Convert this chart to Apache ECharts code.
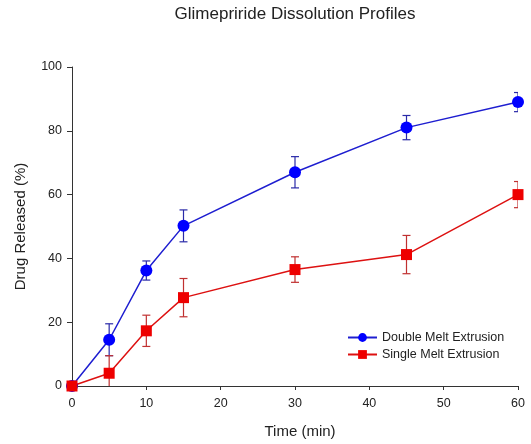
<!DOCTYPE html>
<html>
<head>
<meta charset="utf-8">
<script src="https://cdn.jsdelivr.net/npm/echarts@6/dist/echarts.min.js"></script>
<style>
  html, body { margin: 0; padding: 0; background: #fff; }
  #chart { width: 531px; height: 444px; }
</style>
</head>
<body>
<div id="chart"></div>
<script>
// time points (min)
var times = [0, 5, 10, 15, 30, 45, 60];
// Double Melt Extrusion: mean and error
var doubleMean = [0, 14.5, 36.2, 50.2, 67, 81, 89];
var doubleErr = [0, 5, 3, 5, 4.9, 3.8, 3];
// Single Melt Extrusion: mean and error
var singleMean = [0, 4, 17.3, 27.7, 36.5, 41.2, 60];
var singleErr = [0, 5.5, 4.9, 6, 4, 6, 4.1];
var xTicks = [0, 10, 20, 30, 40, 50, 60];
var yTicks = [0, 20, 40, 60, 80, 100];

function pairs(m) {
    return times.map(function (t, i) { return [t, m[i]]; });
}
function errData(m, e) {
    return times.map(function (t, i) { return [t, m[i] - e[i], m[i] + e[i]]; });
}

// draws vertical bar with caps
function errorBar(color) {
    return function (params, api) {
        var lo = api.coord([api.value(0), api.value(1)]);
        var hi = api.coord([api.value(0), api.value(2)]);
        var w = 4;
        var style = { stroke: color, lineWidth: 1.2 };
        return {
            type: 'group',
            children: [
                { type: 'line', shape: { x1: lo[0], y1: lo[1], x2: hi[0], y2: hi[1] }, style: style },
                { type: 'line', shape: { x1: hi[0] - w, y1: hi[1], x2: hi[0] + w, y2: hi[1] }, style: style },
                { type: 'line', shape: { x1: lo[0] - w, y1: lo[1], x2: lo[0] + w, y2: lo[1] }, style: style }
            ]
        };
    };
}

var font = 'Liberation Sans';
var chart = echarts.init(document.getElementById('chart'));
chart.setOption({
    animation: false,
    backgroundColor: '#fff',
    title: {
        text: 'Glimepriride Dissolution Profiles',
        left: 290,
        textAlign: 'center',
        top: 1,
        textStyle: { fontFamily: font, fontSize: 17, fontWeight: 'normal', color: '#222' }
    },
    grid: { left: 72, right: 13, top: 67, bottom: 57 },
    legend: {
        left: 342,
        top: 326,
        orient: 'vertical',
        itemWidth: 29,
        itemHeight: 11,
        itemGap: 4,
        textStyle: { fontFamily: font, fontSize: 12.5, color: '#222' },
        data: ['Double Melt Extrusion', 'Single Melt Extrusion']
    },
    xAxis: {
        type: 'value',
        min: 0, max: 60, interval: 10,
        name: 'Time (min)',
        nameLocation: 'middle',
        nameGap: 38,
        nameTextStyle: { fontFamily: font, fontSize: 15, color: '#222', padding: [0, 0, 0, 10] },
        axisLine: { onZero: false, lineStyle: { color: '#333', width: 1 } },
        axisTick: { length: 4, lineStyle: { color: '#333' } },
        axisLabel: {
            fontFamily: font, fontSize: 12.5, color: '#222', margin: 11,
            formatter: function (v) { return xTicks.indexOf(v) >= 0 ? String(v) : ''; }
        },
        splitLine: { show: false }
    },
    yAxis: {
        type: 'value',
        min: 0, max: 100, interval: 20,
        name: 'Drug Released (%)',
        nameLocation: 'middle',
        nameGap: 44,
        nameTextStyle: { fontFamily: font, fontSize: 15, color: '#222' },
        axisLine: { show: true, onZero: false, lineStyle: { color: '#333', width: 1 } },
        axisTick: { show: true, length: 5, lineStyle: { color: '#333' } },
        axisLabel: {
            fontFamily: font, fontSize: 12.5, color: '#222', margin: 10,
            formatter: function (v) { return yTicks.indexOf(v) >= 0 ? String(v) : ''; }
        },
        splitLine: { show: false }
    },
    series: [
        {
            name: 'Double Melt Extrusion',
            type: 'line',
            data: pairs(doubleMean),
            symbol: 'circle',
            symbolSize: 12,
            color: '#0000ff',
            lineStyle: { color: '#1e1ed0', width: 1.5 },
            itemStyle: { color: '#0000ff' },
            z: 3
        },
        {
            name: 'Single Melt Extrusion',
            type: 'line',
            data: pairs(singleMean),
            symbol: 'rect',
            symbolSize: 11,
            color: '#ee0000',
            lineStyle: { color: '#dd1111', width: 1.5 },
            itemStyle: { color: '#ee0000' },
            z: 3
        },
        {
            type: 'custom',
            name: 'doubleErr',
            data: errData(doubleMean, doubleErr),
            renderItem: errorBar('#2a2aa8'),
            encode: { x: 0, y: [1, 2] },
            clip: true,
            z: 2
        },
        {
            type: 'custom',
            name: 'singleErr',
            data: errData(singleMean, singleErr),
            renderItem: errorBar('#c03030'),
            encode: { x: 0, y: [1, 2] },
            clip: true,
            z: 2
        }
    ]
});
</script>
</body>
</html>
